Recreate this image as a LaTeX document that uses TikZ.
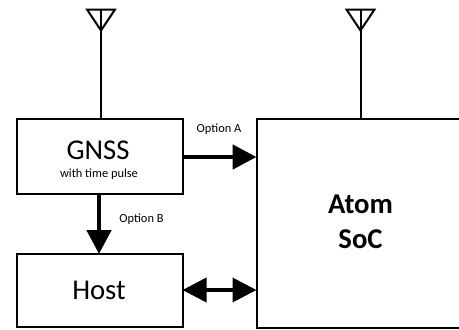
\documentclass[tikz,border=0pt]{standalone}
\usepackage{fontspec}
\setmainfont{Carlito}
\usetikzlibrary{arrows.meta,calc}
\tikzset{
  x=0.75pt,y=-0.75pt,
  blockbox/.style={draw=black,line width=1.5pt,fill=white,inner sep=0pt,outer sep=0pt,anchor=north west},
  lab/.style={inner sep=0pt,text=black,align=center},
  bigarrow/.style={line width=3.6pt,-{Triangle[length=18pt,width=18pt]}},
  duplex/.style={line width=2.8pt,{Triangle[length=18pt,width=18pt]}-{Triangle[length=18pt,width=18pt]}},
  antenna/.style={line width=1.5pt,line join=miter}
}
\begin{document}
\begin{tikzpicture}
\useasboundingbox (0,0) rectangle (459,329);
\clip (0,0) rectangle (459,329);
\fill[white] (0,0) rectangle (459,329);
\node[blockbox,minimum width=124.5pt,minimum height=56.25pt] (gnss) at (16.5,119) {};
\node[blockbox,minimum width=124.5pt,minimum height=54.75pt] (host) at (16.5,254) {};
\node[blockbox,minimum width=180pt,minimum height=156.75pt] (soc) at (256.5,119) {};
\coordinate (a1) at (101,9.5);
\coordinate (a2) at (360.5,9.5);
\draw[antenna] (a1) -- (a1 |- gnss.north);
\draw[antenna] ($(a1)+(-14,0)$) -- ($(a1)+(14,0)$) -- ($(a1)+(0,21)$) -- cycle;
\draw[antenna] (a2) -- (a2 |- soc.north);
\draw[antenna] ($(a2)+(-14,0)$) -- ($(a2)+(14,0)$) -- ($(a2)+(0,21)$) -- cycle;
\coordinate (ay) at (0,157);
\coordinate (bx) at (99,0);
\coordinate (dy) at (0,290);
\draw[bigarrow] (gnss.east |- ay) -- (soc.west |- ay);
\draw[bigarrow] (bx |- gnss.south) -- (bx |- host.north);
\draw[duplex] (host.east |- dy) -- (soc.west |- dy);
\node[lab,font=\fontsize{21.5pt}{24pt}\selectfont] (t1) at (98,150) {GNSS};
\node[lab,font=\fontsize{9.3pt}{11pt}\selectfont] (t2) at (99,174.5) {with time pulse};
\node[lab,font=\fontsize{21.5pt}{24pt}\selectfont] (t3) at (99,290.5) {Host};
\node[lab,font=\fontsize{9.3pt}{11pt}\selectfont] (t4) at (219,129) {Option A};
\node[lab,font=\fontsize{9.3pt}{11pt}\selectfont] (t5) at (141.5,219) {Option B};
\node[lab,font=\bfseries\fontsize{21.5pt}{26.5pt}\selectfont] (t6) at (360.5,222) {Atom\\SoC};
\end{tikzpicture}
\end{document}
